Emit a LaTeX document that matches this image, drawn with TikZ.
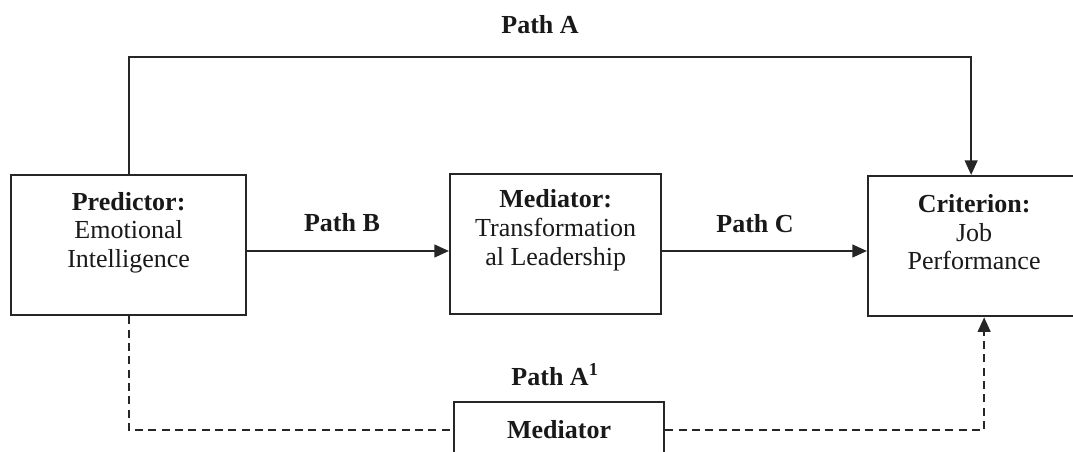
\documentclass[tikz,border=0pt]{standalone}
\usepackage{fontspec}
\setmainfont{Liberation Serif}
\usetikzlibrary{arrows.meta,positioning}
\begin{document}
\begin{tikzpicture}[x=0.75pt,y=-0.75pt,
    box/.style={draw=black!85,line width=1.7pt,inner sep=0pt,anchor=north west},
    boxtext/.style={align=center,font=\fontsize{19.5}{21.5}\selectfont,text=black!90},
    pathlabel/.style={font=\fontsize{19.5}{21.5}\selectfont\bfseries,text=black!90},
    link/.style={draw=black!85,line width=1.7pt},
    arrow/.style={link,-{Triangle[length=11pt,width=9.5pt]}},
    dashlink/.style={link,dash pattern=on 6pt off 4pt}]
    \useasboundingbox (0,0) rectangle (1073,452);
    \clip (0,0) rectangle (1073,452);
    % boxes
    \node[box,minimum width=176.25pt,minimum height=105pt] (pred) at (10,174) {};
    \node[box,minimum width=158.25pt,minimum height=105pt] (med) at (449,173) {};
    \node[box,minimum width=159pt,minimum height=105pt] (crit) at (867,175) {};
    \node[box,minimum width=157.5pt,minimum height=42pt,anchor=west,boxtext] (low) at (453,430) {\textbf{Mediator}};
    % box texts
    \node[boxtext] (predtxt) at ([yshift=-44pt]pred.north) {\textbf{Predictor:}\\Emotional\\Intelligence};
    \node[boxtext] (medtxt) at ([yshift=-43pt]med.north) {\textbf{Mediator:}\\Transformation\\al Leadership};
    \node[boxtext] (crittxt) at ([yshift=-43pt]crit.north) {\textbf{Criterion:}\\Job\\Performance};
    % path labels
    \node[pathlabel] (labA) at (540,25) {Path A};
    \node[pathlabel] (labB) at (342,223) {Path B};
    \node[pathlabel] (labC) at (755,224) {Path C};
    \node[pathlabel] (labA1) at (555,375) {Path A\textsuperscript{1}};
    % connectors
    \coordinate (topline) at (0,57);
    \coordinate (midline) at (0,251);
    \draw[arrow] (pred.north) -- (pred.north |- topline) -| ([xshift=-2.25pt]crit.north);
    \draw[arrow] (pred.east |- midline) -- (med.west |- midline);
    \draw[arrow] (med.east |- midline) -- (crit.west |- midline);
    \draw[dashlink] (pred.south) |- (low.west);
    \draw[dashlink,arrow] (low.east) -| ([xshift=7.5pt]crit.south);
\end{tikzpicture}
\end{document}
